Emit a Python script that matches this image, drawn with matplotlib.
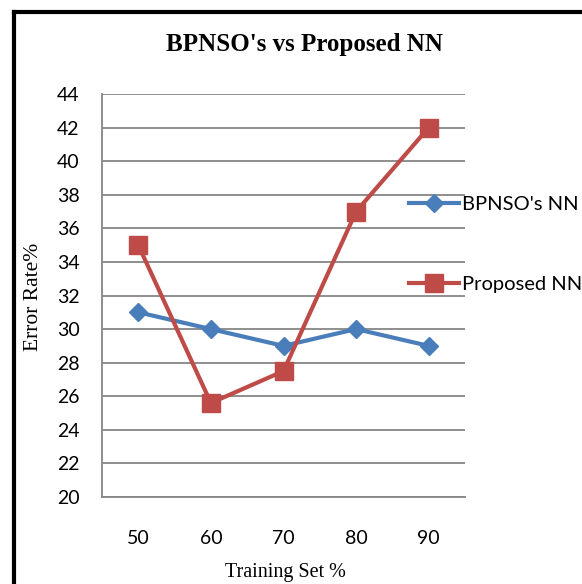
import matplotlib.pyplot as plt
from matplotlib.lines import Line2D

categories = ["50", "60", "70", "80", "90"]
bpnso = [31, 30, 29, 30, 29]
proposed = [35, 25.6, 27.5, 37, 42]
yticks = list(range(20, 46, 2))


def main():
    fig = plt.figure(figsize=(5.82, 5.84), dpi=100)
    ax = fig.add_axes([102 / 582, 87 / 584, 363 / 582, 403 / 584])

    x = range(len(categories))
    ax.plot(x, bpnso, color="#4A7EBB", marker="D", markersize=9, linewidth=3,
            label="BPNSO's NN", zorder=3)
    ax.plot(x, proposed, color="#BE4B48", marker="s", markersize=13, linewidth=3,
            label="Proposed NN", zorder=3)

    ax.set_xlim(-0.5, 4.5)
    ax.set_ylim(20, 44)
    ax.set_yticks(yticks)
    ax.set_xticks(list(x))
    ax.set_xticklabels(categories)
    ax.grid(axis="y", color="#868686", linewidth=1.3)
    ax.set_axisbelow(True)
    for s in ["top", "right"]:
        ax.spines[s].set_visible(False)
    ax.spines["bottom"].set_color("#868686")
    ax.spines["left"].set_color("#868686")
    ax.spines["bottom"].set_linewidth(1.3)
    ax.spines["left"].set_linewidth(1.3)
    ax.tick_params(axis="x", length=0, pad=24, labelsize=14)
    ax.tick_params(axis="y", length=0, pad=16, labelsize=14)
    for lab in ax.get_xticklabels() + ax.get_yticklabels():
        lab.set_fontfamily("Lato")

    fig.text(304 / 582, 1 - 44 / 584, "BPNSO's vs Proposed NN", ha="center", va="center",
             fontfamily="Liberation Serif", fontweight="bold", fontsize=18)
    fig.text(34 / 582, 1 - 297 / 584, "Error Rate%", ha="center", va="center", rotation=90,
             fontfamily="Liberation Serif", fontsize=15.5)
    fig.text(285 / 582, 1 - 573 / 584, "Training Set %", ha="center", va="center",
             fontfamily="Liberation Serif", fontsize=14.5)

    ax.legend(loc="upper left", bbox_to_anchor=(391 / 582, 1 - 178 / 584),
              bbox_transform=fig.transFigure, frameon=False, handlelength=2.5,
              handletextpad=0.15, labelspacing=3.1, prop={"family": "Lato", "size": 14.5})

    # outer frame
    fig.add_artist(Line2D([13.5 / 582, 13.5 / 582], [0, 1 - 11.5 / 584], color="black",
                          linewidth=3, transform=fig.transFigure))
    fig.add_artist(Line2D([13.5 / 582, 1], [1 - 11.5 / 584, 1 - 11.5 / 584], color="black",
                          linewidth=3, transform=fig.transFigure))

    fig.savefig("out.png", dpi=100)


if __name__ == "__main__":
    main()
